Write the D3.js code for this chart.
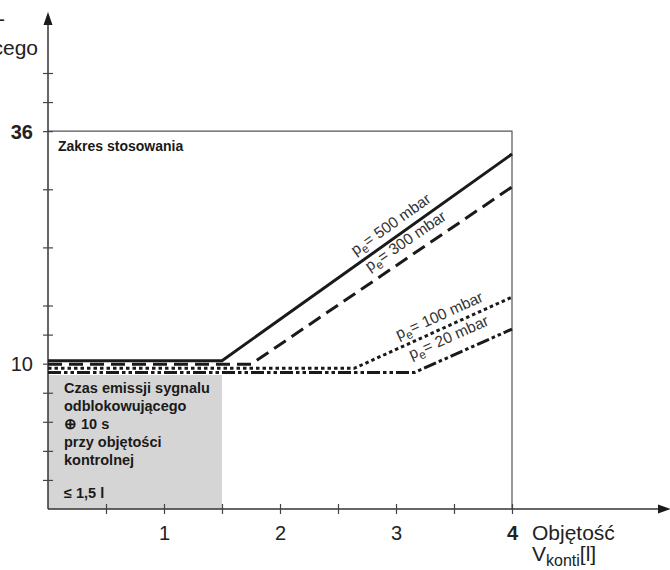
<!DOCTYPE html>
<html>
<head>
<meta charset="utf-8">
<script src="https://cdn.jsdelivr.net/npm/d3@7"></script>
<style>
  html, body { margin: 0; padding: 0; background: #fff; }
  svg { display: block; font-family: "Liberation Sans", Arial, sans-serif; }
</style>
</head>
<body>
<svg id="chart" width="670" height="570"></svg>
<script>
// ---- data ----
const xTickValues = [0.5, 1, 1.5, 2, 2.5, 3, 3.5, 4];
const xTickLabels = ["", "1", "", "2", "", "3", "", "4"];
const yTickValues = [1, 2, 3, 4, 5, 6, 7, 9, 11, 13, 14, 15];   // schematic grid units
const yTickLabels = ["", "", "", "", "10", "", "", "", "", "36", "", ""];
const seriesNames = ["500 mbar", "300 mbar", "100 mbar", "20 mbar"];
const series500 = [[0, 5.10], [1.5, 5.10], [4, 12.21]];
const series300 = [[0, 4.98], [1.75, 4.98], [4, 11.08]];
const series100 = [[0, 4.84], [2.64, 4.84], [4, 7.29]];
const series20  = [[0, 4.70], [3.16, 4.70], [4, 6.19]];
const rangeBox = [4, 13];          // Zakres stosowania (x max, y max)
const grayBox = [1.5, 4.61];       // region x<=1.5

// ---- layout ----
const svg = d3.select("#chart");
const x = d3.scaleLinear().domain([0, 4]).range([48, 512]);
const y = d3.scaleLinear().domain([0, 15]).range([509, 73]);
const ink = "#1a1a1a";

// gray region
svg.append("rect")
  .attr("x", x(0)).attr("y", y(grayBox[1]))
  .attr("width", x(grayBox[0]) - x(0)).attr("height", y(0) - y(grayBox[1]))
  .attr("fill", "#d5d5d5");

// application range box
svg.append("path")
  .attr("d", `M${x(0)},${y(rangeBox[1])}H${x(rangeBox[0])}V${y(0)}`)
  .attr("fill", "none").attr("stroke", "#555").attr("stroke-width", 1.2);

// axes lines with arrows
svg.append("line").attr("x1", x(0)).attr("y1", y(0)).attr("x2", x(0)).attr("y2", 22)
  .attr("stroke", "#333").attr("stroke-width", 1.5);
svg.append("path").attr("d", `M${x(0)},12L${x(0) - 4.5},25L${x(0) + 4.5},25Z`).attr("fill", ink);
svg.append("line").attr("x1", x(0)).attr("y1", y(0)).attr("x2", 662).attr("y2", y(0))
  .attr("stroke", "#333").attr("stroke-width", 1.5);
svg.append("path").attr("d", `M671,${y(0)}L658,${y(0) - 4.5}L658,${y(0) + 4.5}Z`).attr("fill", ink);

// x ticks
const xAxis = d3.axisBottom(x).tickValues(xTickValues).tickSize(0)
  .tickFormat((d, i) => xTickLabels[i]);
const gx = svg.append("g").attr("transform", `translate(0,${y(0)})`).call(xAxis);
gx.select(".domain").remove();
gx.selectAll(".tick line").remove();
gx.selectAll(".tick").append("line").attr("y1", -5).attr("y2", 5)
  .attr("stroke", "#444").attr("stroke-width", 1.2);
gx.selectAll(".tick text")
  .attr("y", 0).attr("dy", 0).attr("transform", "translate(0,31)")
  .attr("font-size", 20).attr("fill", "#222")
  .attr("font-family", "Liberation Sans, Arial, sans-serif")
  .attr("font-weight", d => d === 4 ? "bold" : "normal");

// y ticks
const yAxis = d3.axisLeft(y).tickValues(yTickValues).tickSize(0)
  .tickFormat((d, i) => yTickLabels[i]);
const gy = svg.append("g").attr("transform", `translate(${x(0)},0)`).call(yAxis);
gy.select(".domain").remove();
gy.selectAll(".tick line").remove();
gy.selectAll(".tick").append("line").attr("x1", -5).attr("x2", 5)
  .attr("stroke", "#444").attr("stroke-width", 1.2);
gy.selectAll(".tick text")
  .attr("x", -15).attr("dy", "0.35em")
  .attr("font-size", 20).attr("fill", "#222")
  .attr("font-family", "Liberation Sans, Arial, sans-serif")
  .attr("font-weight", d => d === 13 ? "bold" : "normal");

// series lines
const line = d3.line().x(d => x(d[0])).y(d => y(d[1]));
const allSeries = [series500, series300, series100, series20];
const dashes = [null, "14,7", "3.5,3", "13,3,3.5,3,3.5,3"];
allSeries.forEach((s, i) => {
  svg.append("path").datum(s).attr("d", line)
    .attr("fill", "none").attr("stroke", ink).attr("stroke-width", 3)
    .attr("stroke-dasharray", dashes[i]).attr("stroke-linejoin", "miter");
});

// line labels (rotated along the rising segment)
const labelAt = [2.69, 2.82, 3.05, 3.18];
const labelOff = [8, 10, 8, 13];
allSeries.forEach((s, i) => {
  const p1 = s[1], p2 = s[2];
  const ang = Math.atan2(y(p2[1]) - y(p1[1]), x(p2[0]) - x(p1[0])) * 180 / Math.PI;
  const t = (labelAt[i] - p1[0]) / (p2[0] - p1[0]);
  const px = x(labelAt[i]);
  const py = y(p1[1] + t * (p2[1] - p1[1]));
  const txt = svg.append("text")
    .attr("transform", `translate(${px},${py}) rotate(${ang})`)
    .attr("y", -labelOff[i])
    .attr("font-size", 15.5).attr("fill", "#333");
  txt.append("tspan").text("p");
  txt.append("tspan").attr("font-size", 12).attr("dy", 4).text("e");
  txt.append("tspan").attr("dy", -4).text("= " + seriesNames[i]);
});

// texts inside chart
svg.append("text").attr("x", 58).attr("y", 151)
  .attr("font-size", 14).attr("font-weight", "bold").attr("fill", ink)
  .text("Zakres stosowania");

const grayLines = [
  ["Czas emissji sygnalu", 393],
  ["odblokowującego", 411],
  ["⊕ 10 s", 429],
  ["przy objętości", 447],
  ["kontrolnej", 465],
  ["≤ 1,5 l", 498]
];
grayLines.forEach(([t, yy]) => {
  svg.append("text").attr("x", 64).attr("y", yy)
    .attr("font-size", 14.5).attr("font-weight", "bold").attr("fill", ink).text(t);
});

// y axis title (partly cut off at left edge, as in the reference)
svg.append("text").attr("x", 5).attr("y", 26).attr("text-anchor", "end")
  .attr("font-size", 21).attr("fill", "#222").text("Czas emisji sygnału odblo-");
svg.append("text").attr("x", 38).attr("y", 55).attr("text-anchor", "end")
  .attr("font-size", 21).attr("fill", "#222").text("kowującego");

// x axis title
svg.append("text").attr("x", 532).attr("y", 540)
  .attr("font-size", 21).attr("fill", "#222").text("Objętość");
const vt = svg.append("text").attr("x", 532).attr("y", 561)
  .attr("font-size", 21).attr("fill", "#222");
vt.append("tspan").text("V");
vt.append("tspan").attr("font-size", 16).attr("dy", 5).text("konti");
vt.append("tspan").attr("dy", -5).text("[l]");
</script>
</body>
</html>
